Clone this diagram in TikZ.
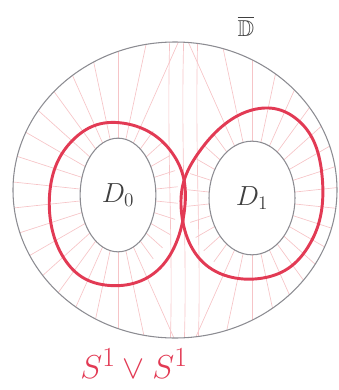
\documentclass[tikz,border=0pt]{standalone}
\usepackage{amssymb}
\usetikzlibrary{shapes.geometric}
\definecolor{loopred}{RGB}{226,58,84}
\definecolor{hatch}{RGB}{246,196,199}
\definecolor{pencil}{RGB}{140,140,146}

\begin{document}
\begin{tikzpicture}[x=0.0264cm, y=-0.0264cm]

\useasboundingbox (0,0) rectangle (338,390);

% faint hatching inside the closed disk
\begin{scope}
\clip (175,190) ellipse [x radius=162, y radius=148];
\foreach \a in {66,78,...,294}
    \draw[hatch, line width=0.5pt] ({118+38*cos(\a)},{195-57*sin(\a)}) -- ++({230*cos(\a)},{-230*sin(\a)});
\foreach \a in {-54,-42,...,54}
    \draw[hatch, line width=0.5pt] ({118+38*cos(\a)},{195-57*sin(\a)}) -- ++({22*cos(\a)},{-22*sin(\a)});
\foreach \a in {-114,-102,...,114}
    \draw[hatch, line width=0.5pt] ({252+43*cos(\a)},{198-57*sin(\a)}) -- ++({230*cos(\a)},{-230*sin(\a)});
\foreach \a in {126,138,...,234}
    \draw[hatch, line width=0.5pt] ({252+43*cos(\a)},{198-57*sin(\a)}) -- ++({22*cos(\a)},{-22*sin(\a)});
\foreach \x in {170,184,198}
    \draw[hatch, line width=0.5pt] (\x,30) .. controls (\x-4,150) and (\x+4,250) .. (\x,350);
\end{scope}

% outer disk
\draw[pencil, line width=0.8pt] (175,190) ellipse [x radius=162, y radius=148];

% inner disks
\node[draw=pencil, line width=0.8pt, ellipse, inner sep=0pt, minimum width=2.0cm, minimum height=3.0cm,
      font=\fontsize{20}{20}\selectfont, text=black!75] (d0) at (118,195) {$D_0$};
\node[draw=pencil, line width=0.8pt, ellipse, inner sep=0pt, minimum width=2.27cm, minimum height=3.0cm,
      font=\fontsize{20}{20}\selectfont, text=black!75] (d1) at (252,198) {$D_1$};

% the two loops
\draw[loopred, line width=2.2pt] plot[smooth cycle, tension=0.7] coordinates
    {(185,205) (170,150) (122,123) (75,138) (50,190) (62,255) (105,285) (160,268)};
\draw[loopred, line width=2.2pt] plot[smooth cycle, tension=0.7] coordinates
    {(181,205) (202,148) (252,110) (300,122) (322,175) (312,240) (268,277) (206,265)};

% labels
\node[text=black!75, font=\LARGE] (dbar) at (246,26) {$\overline{\mathbb{D}}$};
\node[text=loopred, font=\fontsize{30}{30}\selectfont] (wedge) at (134,364) {$S^1\vee S^1$};

\end{tikzpicture}
\end{document}
